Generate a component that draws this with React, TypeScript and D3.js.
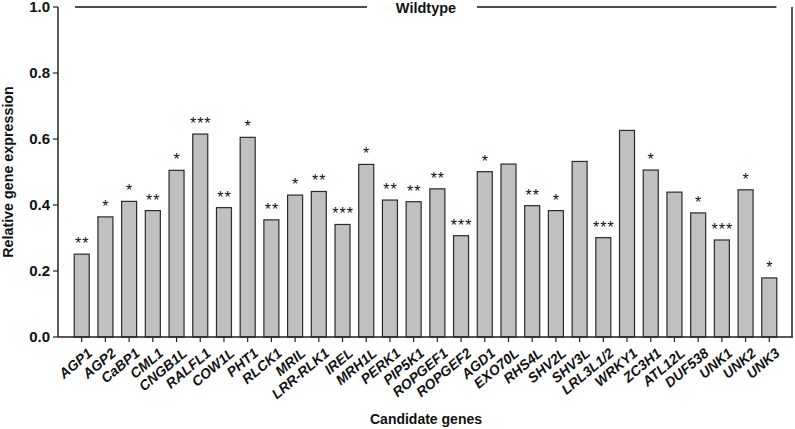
import React from 'react';
import * as d3 from 'd3';

// gene names, expression relative to wildtype, and significance marks
const genes = [
  'AGP1', 'AGP2', 'CaBP1', 'CML1', 'CNGB1L', 'RALFL1', 'COW1L', 'PHT1', 'RLCK1', 'MRIL',
  'LRR-RLK1', 'IREL', 'MRH1L', 'PERK1', 'PIP5K1', 'ROPGEF1', 'ROPGEF2', 'AGD1', 'EXO70L', 'RHS4L',
  'SHV2L', 'SHV3L', 'LRL3L1/2', 'WRKY1', 'ZC3H1', 'ATL12L', 'DUF538', 'UNK1', 'UNK2', 'UNK3'
];
const expression = [
  0.251, 0.364, 0.411, 0.383, 0.505, 0.615, 0.392, 0.605, 0.355, 0.430,
  0.441, 0.341, 0.523, 0.415, 0.410, 0.449, 0.307, 0.501, 0.524, 0.398,
  0.383, 0.532, 0.301, 0.626, 0.506, 0.439, 0.376, 0.294, 0.446, 0.179
];
const stars = [
  '**', '*', '*', '**', '*', '***', '**', '*', '**', '*',
  '**', '***', '*', '**', '**', '**', '***', '*', '', '**',
  '*', '', '***', '', '*', '', '*', '***', '*', '*'
];
const yTicks = [0, 0.2, 0.4, 0.6, 0.8, 1.0];

const W = 795;
const H = 429;
const margin = { top: 7, right: 2, bottom: 92, left: 58 };
const font = 'Arial, "Liberation Sans", sans-serif';

export default function App() {
  const left = margin.left;
  const right = W - margin.right;
  const bottom = H - margin.bottom;

  const x = d3.scaleLinear().domain([0, genes.length + 1]).range([left, right]);
  const y = d3.scaleLinear().domain([0, 1]).range([bottom, margin.top]);
  const barW = 15;

  return (
    <svg width={W} height={H} style={{ position: 'absolute', left: 0, top: 0, background: '#fff' }}>
      {/* bars */}
      {genes.map((g, i) => (
        <rect
          key={g}
          x={x(i + 1) - barW / 2}
          y={y(expression[i])}
          width={barW}
          height={y(0) - y(expression[i])}
          fill="#c0c0c0"
          stroke="#2a2a2a"
          strokeWidth={1.2}
        />
      ))}

      {/* significance */}
      {genes.map((g, i) => (
        <text
          key={g + '-s'}
          x={x(i + 1) + 0.5}
          y={y(expression[i]) - 5}
          textAnchor="middle"
          fontFamily={font}
          fontSize={16}
          letterSpacing={1}
          fill="#111"
        >
          {stars[i]}
        </text>
      ))}

      {/* frame */}
      <line x1={left} x2={left} y1={margin.top} y2={bottom} stroke="#222" strokeWidth={1.5} />
      <line x1={right - 1} x2={right - 1} y1={margin.top} y2={bottom} stroke="#222" strokeWidth={1.5} />
      <line x1={left} x2={right} y1={bottom} y2={bottom} stroke="#222" strokeWidth={1.5} />

      {/* wildtype reference */}
      <line x1={x(0.72)} x2={367} y1={y(1)} y2={y(1)} stroke="#111" strokeWidth={1.5} />
      <line x1={477} x2={x(30.3)} y1={y(1)} y2={y(1)} stroke="#111" strokeWidth={1.5} />
      <text x={426} y={13} textAnchor="middle" fontFamily={font} fontSize={14.5} fontWeight="bold" fill="#111">
        Wildtype
      </text>

      {/* y axis */}
      {yTicks.map(t => (
        <g key={t}>
          <line x1={left - 5} x2={left} y1={y(t)} y2={y(t)} stroke="#222" strokeWidth={1.2} />
          <text
            x={left - 8}
            y={y(t)}
            dy="0.36em"
            textAnchor="end"
            fontFamily={font}
            fontSize={15}
            fontWeight="bold"
            fill="#111"
          >
            {d3.format('.1f')(t)}
          </text>
        </g>
      ))}
      <text
        transform={`translate(13,${(y(0) + y(1)) / 2}) rotate(-90)`}
        textAnchor="middle"
        fontFamily={font}
        fontSize={14.3}
        fontWeight="bold"
        fill="#111"
      >
        Relative gene expression
      </text>

      {/* x axis */}
      {genes.map((g, i) => (
        <g key={g + '-t'}>
          <line x1={x(i + 1)} x2={x(i + 1)} y1={bottom} y2={bottom + 5} stroke="#222" strokeWidth={1.2} />
          <text
            transform={`translate(${x(i + 1) + 5},${bottom + 10}) rotate(-40)`}
            dy="0.72em"
            textAnchor="end"
            fontFamily={font}
            fontSize={14}
            fontWeight="bold"
            fontStyle="italic"
            fill="#111"
          >
            {g}
          </text>
        </g>
      ))}
      <text x={426} y={424} textAnchor="middle" fontFamily={font} fontSize={14} fontWeight="bold" fill="#111">
        Candidate genes
      </text>
    </svg>
  );
}
